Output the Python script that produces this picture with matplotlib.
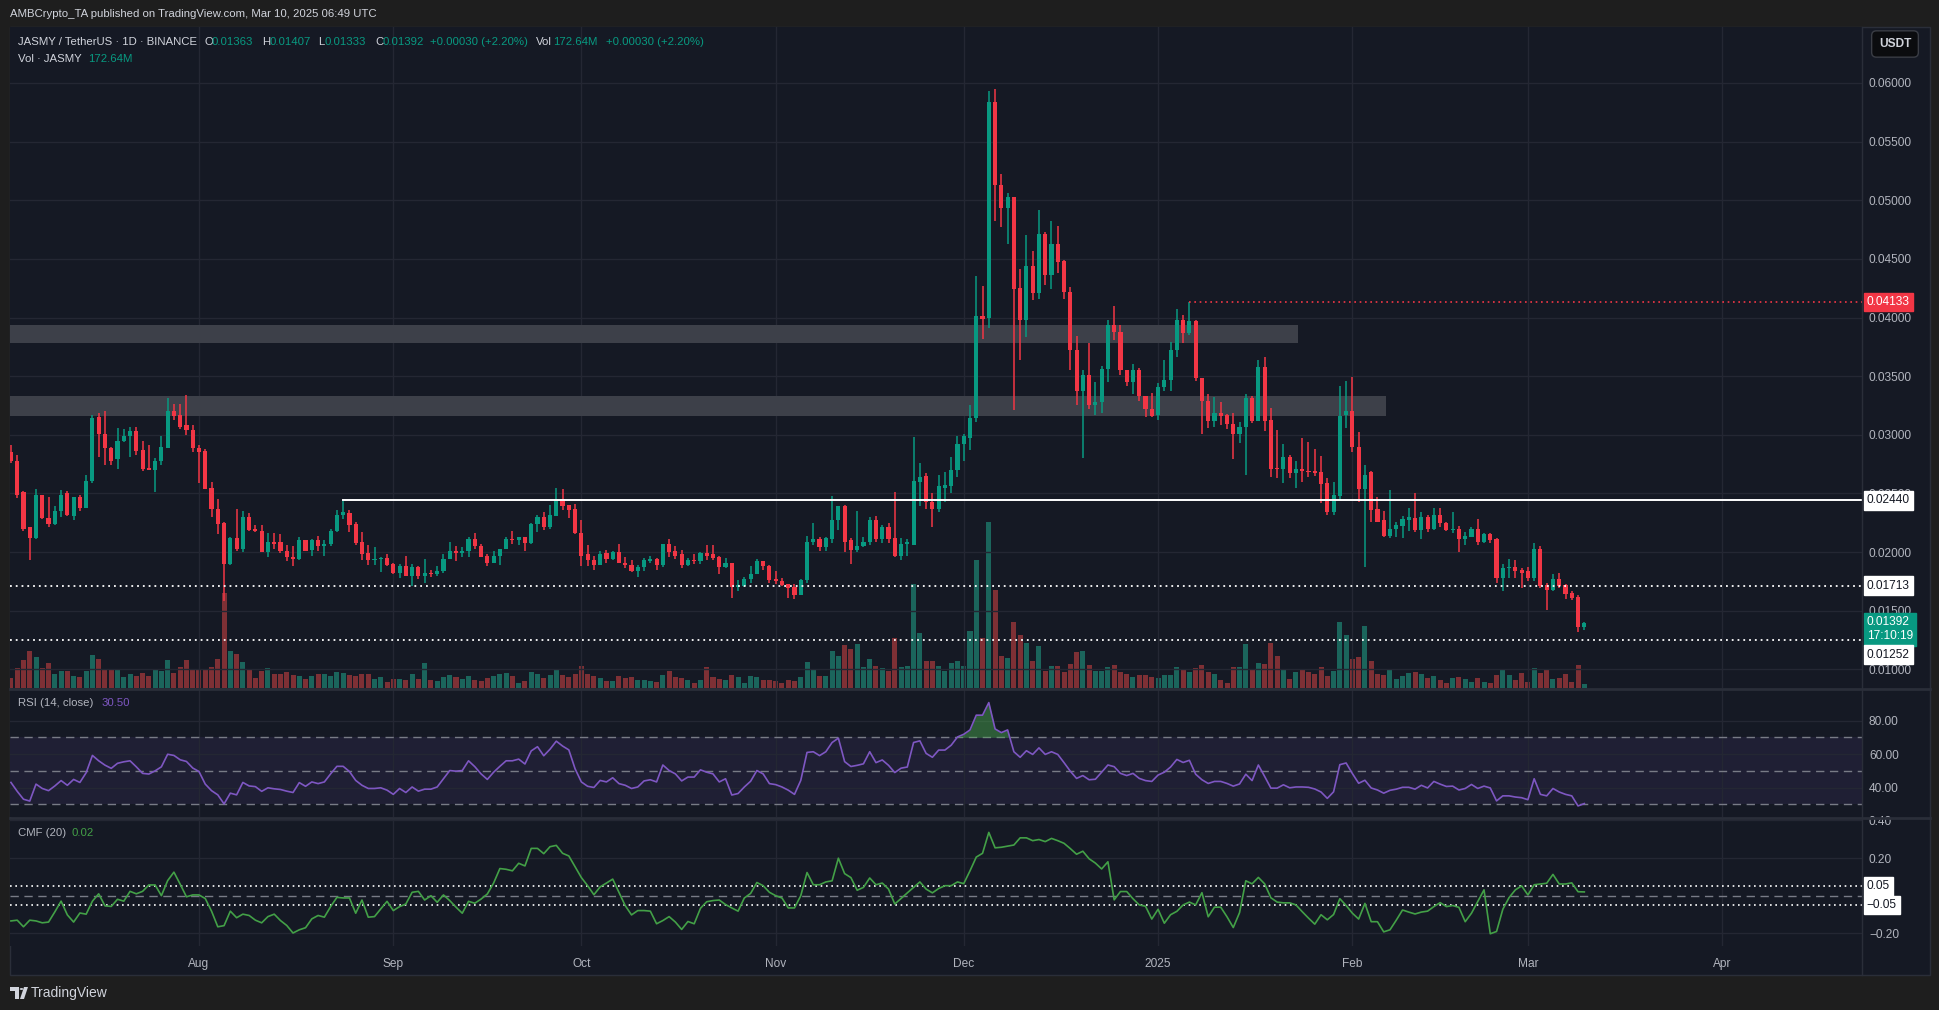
import numpy as np
import pandas as pd
import matplotlib
matplotlib.use("Agg")
import matplotlib.pyplot as plt
from matplotlib.patches import Rectangle, Polygon, Circle
from matplotlib.lines import Line2D

plt.rcParams['font.family'] = ['Liberation Sans', 'DejaVu Sans']

# ---- daily candles JASMY/USDT, 2024-07-02 .. 2025-03-10 ----
start_date = "2024-07-02"

opens = [
    # Jul
    .0285, .0278, .0251, .0221, .0212, .0249, .0229, .0224, .0235, .0250, .0231, .0247, .0238, .0261, .0315,
    .0301, .0289, .0279, .0295, .0299, .0303, .0287, .0272, .0270, .0278, .0289, .0320, .0317, .0308, .0304,
    # Aug
    .0289, .0286, .0255, .0237, .0225, .0190, .0212, .0203, .0230, .0220, .0218, .0200, .0209, .0209, .0201,
    .0196, .0194, .0210, .0202, .0210, .0205, .0207, .0218, .0232, .0233, .0224, .0209, .0199, .0193, .0194, .0195,
    # Sep
    .0190, .0182, .0188, .0180, .0187, .0180, .0182, .0181, .0184, .0194, .0201, .0199, .0201, .0211, .0205,
    .0197, .0191, .0197, .0203, .0211, .0210, .0213, .0208, .0224, .0230, .0221, .0231, .0245, .0240, .0237,
    # Oct
    .0216, .0198, .0193, .0189, .0199, .0194, .0200, .0191, .0189, .0184, .0187, .0192, .0194, .0189, .0207,
    .0201, .0198, .0189, .0193, .0192, .0199, .0198, .0196, .0187, .0191, .0170, .0171, .0177, .0181, .0192, .0188,
    # Nov
    .0177, .0175, .0173, .0170, .0163, .0176, .0209, .0211, .0204, .0211, .0227, .0239, .0210, .0202, .0205,
    .0209, .0227, .0211, .0221, .0212, .0197, .0207, .0206, .0260, .0265, .0243, .0237, .0255, .0256, .0270,
    # Dec
    .0292, .0297, .0314, .0401, .0400, .0584, .0513, .0493, .0503, .0425, .0398, .0444, .0421, .0471, .0436,
    .0463, .0448, .0422, .0372, .0337, .0351, .0325, .0328, .0356, .0394, .0388, .0355, .0345, .0355, .0333, .0322,
    # Jan
    .0317, .0341, .0347, .0372, .0398, .0387, .0397, .0348, .0329, .0312, .0319, .0317, .0309, .0301, .0307,
    .0331, .0312, .0358, .0313, .0272, .0271, .0281, .0267, .0271, .0269, .0269, .0268, .0259, .0234, .0248, .0317,
    # Feb
    .0320, .0290, .0254, .0268, .0237, .0227, .0214, .0220, .0222, .0227, .0229, .0219, .0230, .0220, .0232,
    .0225, .0219, .0220, .0211, .0213, .0220, .0209, .0215, .0211, .0178, .0186, .0187, .0185,
    # Mar
    .0184, .0178, .0203, .0172, .0168, .0177, .0172, .0165, .0162, .01363,
]
highs = [
    .0291, .0283, .0252, .0221, .0254, .0249, .0247, .0239, .0253, .0252, .0247, .0249, .0266, .0317, .0319,
    .0320, .0290, .0306, .0305, .0307, .0307, .0295, .0291, .0280, .0299, .0331, .0326, .0326, .0334, .0308,
    .0291, .0288, .0260, .0245, .0226, .0213, .0237, .0235, .0233, .0223, .0223, .0216, .0216, .0215, .0206,
    .0205, .0213, .0210, .0211, .0214, .0210, .0220, .0236, .0244, .0236, .0226, .0217, .0206, .0204, .0196, .0198,
    .0191, .0190, .0197, .0190, .0188, .0194, .0185, .0188, .0198, .0209, .0205, .0204, .0213, .0216, .0207,
    .0198, .0201, .0203, .0213, .0218, .0213, .0213, .0225, .0232, .0234, .0240, .0255, .0254, .0240, .0241,
    .0227, .0206, .0197, .0201, .0202, .0201, .0207, .0196, .0193, .0189, .0195, .0197, .0195, .0207, .0211,
    .0205, .0202, .0195, .0198, .0200, .0206, .0206, .0197, .0195, .0191, .0176, .0179, .0188, .0194, .0192, .0189,
    .0184, .0178, .0173, .0173, .0177, .0214, .0225, .0213, .0213, .0248, .0239, .0240, .0212, .0235, .0213,
    .0230, .0231, .0223, .0225, .0251, .0212, .0211, .0298, .0276, .0267, .0250, .0266, .0268, .0281, .0299,
    .0301, .0325, .0435, .0427, .0593, .0595, .0522, .0506, .0503, .0441, .0470, .0457, .0492, .0473, .0482,
    .0478, .0449, .0426, .0384, .0355, .0378, .0345, .0359, .0398, .0410, .0394, .0355, .0360, .0357, .0333, .0336,
    .0344, .0364, .0379, .0407, .0402, .0413, .0398, .0348, .0335, .0332, .0328, .0318, .0319, .0311, .0335,
    .0333, .0364, .0366, .0323, .0304, .0292, .0283, .0278, .0297, .0294, .0288, .0282, .0263, .0260, .0342, .0346,
    .0349, .0302, .0274, .0269, .0247, .0235, .0253, .0226, .0231, .0238, .0250, .0234, .0232, .0238, .0238,
    .0226, .0234, .0222, .0217, .0221, .0228, .0216, .0216, .0212, .0190, .0194, .0193, .0186,
    .0187, .0208, .0205, .0174, .0181, .0182, .0173, .0167, .0163, .01407,
]
lows = [
    .0276, .0246, .0218, .0193, .0211, .0228, .0221, .0223, .0230, .0231, .0227, .0235, .0238, .0259, .0281,
    .0274, .0274, .0271, .0294, .0281, .0283, .0269, .0270, .0251, .0274, .0289, .0313, .0305, .0300, .0285,
    .0259, .0254, .0230, .0215, .0158, .0189, .0201, .0200, .0218, .0217, .0200, .0196, .0203, .0199, .0192,
    .0188, .0193, .0201, .0197, .0201, .0197, .0205, .0217, .0228, .0217, .0206, .0193, .0189, .0189, .0183, .0188,
    .0181, .0178, .0180, .0171, .0177, .0174, .0179, .0180, .0182, .0194, .0192, .0196, .0196, .0203, .0196,
    .0188, .0191, .0189, .0203, .0207, .0206, .0201, .0207, .0217, .0219, .0220, .0231, .0236, .0229, .0215,
    .0188, .0188, .0185, .0189, .0191, .0193, .0191, .0186, .0183, .0179, .0184, .0191, .0185, .0187, .0196,
    .0194, .0186, .0188, .0190, .0190, .0193, .0193, .0181, .0186, .0161, .0167, .0170, .0174, .0181, .0185, .0174,
    .0173, .0171, .0161, .0160, .0163, .0174, .0206, .0201, .0201, .0208, .0219, .0200, .0190, .0200, .0204,
    .0206, .0209, .0208, .0208, .0196, .0193, .0197, .0206, .0239, .0237, .0221, .0234, .0243, .0250, .0264,
    .0278, .0287, .0311, .0382, .0391, .0482, .0477, .0463, .0321, .0364, .0383, .0415, .0416, .0428, .0424,
    .0438, .0416, .0355, .0325, .0280, .0322, .0317, .0319, .0345, .0381, .0351, .0342, .0335, .0329, .0315, .0315,
    .0313, .0337, .0337, .0366, .0378, .0385, .0346, .0301, .0306, .0307, .0308, .0305, .0279, .0293, .0266,
    .0310, .0312, .0303, .0264, .0263, .0259, .0263, .0255, .0260, .0264, .0265, .0242, .0232, .0232, .0245, .0306,
    .0285, .0243, .0187, .0226, .0226, .0213, .0212, .0213, .0212, .0218, .0217, .0211, .0217, .0219, .0221,
    .0218, .0216, .0200, .0206, .0213, .0206, .0208, .0208, .0174, .0167, .0178, .0178, .0169,
    .0175, .0175, .0169, .0151, .0167, .0169, .0160, .0159, .0132, .01333,
]
closes = [
    .0278, .0249, .0220, .0212, .0249, .0229, .0224, .0235, .0249, .0232, .0247, .0238, .0261, .0314, .0301,
    .0289, .0278, .0295, .0299, .0303, .0286, .0271, .0270, .0278, .0290, .0320, .0316, .0307, .0304, .0289,
    .0285, .0254, .0237, .0224, .0190, .0212, .0203, .0230, .0219, .0218, .0200, .0209, .0207, .0201, .0196,
    .0194, .0210, .0201, .0210, .0205, .0207, .0218, .0232, .0234, .0223, .0208, .0198, .0193, .0194, .0195, .0189,
    .0182, .0188, .0180, .0187, .0180, .0182, .0181, .0184, .0194, .0201, .0199, .0201, .0211, .0205, .0196,
    .0191, .0197, .0203, .0211, .0210, .0213, .0208, .0224, .0230, .0221, .0232, .0245, .0239, .0236, .0216,
    .0197, .0193, .0189, .0198, .0194, .0200, .0191, .0189, .0184, .0187, .0193, .0194, .0189, .0207, .0200,
    .0197, .0189, .0193, .0192, .0199, .0197, .0195, .0187, .0191, .0170, .0172, .0177, .0181, .0192, .0188, .0176,
    .0175, .0172, .0169, .0163, .0176, .0209, .0211, .0204, .0212, .0227, .0239, .0209, .0202, .0205, .0209,
    .0227, .0211, .0221, .0211, .0197, .0207, .0209, .0261, .0264, .0243, .0237, .0256, .0257, .0270, .0292,
    .0299, .0314, .0401, .0399, .0584, .0513, .0493, .0503, .0424, .0398, .0444, .0421, .0471, .0436, .0463,
    .0447, .0422, .0372, .0337, .0351, .0325, .0328, .0356, .0394, .0388, .0355, .0345, .0355, .0333, .0322, .0316,
    .0341, .0347, .0372, .0398, .0387, .0397, .0348, .0329, .0312, .0319, .0316, .0309, .0301, .0307, .0331,
    .0312, .0358, .0312, .0271, .0271, .0281, .0267, .0271, .0269, .0268, .0267, .0258, .0234, .0249, .0316, .0320,
    .0290, .0254, .0266, .0236, .0226, .0214, .0220, .0223, .0228, .0230, .0219, .0230, .0220, .0232, .0225,
    .0219, .0220, .0211, .0214, .0220, .0209, .0215, .0210, .0178, .0186, .0187, .0184, .0182,
    .0178, .0203, .0171, .0168, .0177, .0171, .0164, .0161, .01362, .01392,
]
# volume in millions of JASMY
volumes = [
    383, 781, 1093, 1448, 1207, 781, 980, 554, 639, 667, 469, 440, 667, 1278, 1136,
    696, 682, 710, 440, 554, 454, 568, 469, 710, 639, 1065, 596, 824, 1065, 682,
    696, 696, 824, 1136, 3692, 1448, 1306, 994, 682, 398, 639, 781, 525, 546, 611,
    494, 455, 351, 455, 559, 533, 455, 624, 572, 494, 455, 546, 533, 338, 416, 234,
    338, 338, 299, 533, 338, 962, 299, 260, 416, 494, 416, 338, 455, 299, 260,
    377, 455, 533, 572, 455, 182, 260, 611, 533, 377, 494, 728, 494, 416, 533,
    845, 533, 455, 377, 260, 260, 455, 377, 416, 299, 299, 260, 221, 494, 650,
    416, 377, 299, 182, 299, 806, 416, 338, 299, 494, 416, 182, 455, 416, 299, 299,
    260, 182, 299, 260, 416, 1001, 716, 456, 477, 1432, 1237, 1671, 1497, 1693, 803,
    1107, 868, 760, 673, 1931, 803, 868, 4036, 2127, 1042, 1063, 868, 651, 955, 1063,
    868, 2213, 4948, 1953, 6423, 3776, 1237, 1150, 2561, 2062, 1736, 1042, 1628, 651, 868,
    846, 608, 913, 1378, 1444, 880, 664, 664, 830, 880, 614, 531, 415, 515, 498, 432,
    382, 498, 515, 797, 681, 614, 764, 880, 614, 548, 299, 199, 830, 830, 1693,
    747, 979, 946, 1760, 1245, 714, 365, 631, 714, 631, 548, 830, 465, 662, 2541, 2033,
    1124, 1217, 2418, 1047, 554, 508, 708, 354, 462, 585, 631, 554, 385, 462, 308,
    200, 385, 431, 354, 231, 385, 231, 200, 508, 739, 508, 308, 585,
    231, 785, 585, 708, 354, 385, 554, 231, 893, 172.64,
]
rsi_vals = [
    43.1, 37.8, 33.1, 32.0, 42.1, 39.5, 38.2, 41.0, 44.2, 41.4, 44.9, 43.1, 48.9, 59.2, 56.0,
    53.4, 51.5, 54.5, 55.4, 56.0, 52.4, 48.5, 48.1, 50.0, 52.4, 59.9, 59.2, 56.6, 55.6, 51.7,
    49.6, 42.1, 38.2, 35.7, 30.3, 36.7, 35.7, 43.1, 41.0, 40.6, 37.8, 39.9, 39.3, 38.9, 37.9,
    37.1, 43.0, 40.8, 43.4, 42.4, 43.4, 48.2, 52.7, 52.7, 49.6, 44.3, 41.4, 39.5, 39.5, 39.9, 38.5,
    36.0, 39.5, 37.1, 40.4, 37.9, 39.1, 39.1, 40.4, 45.3, 50.2, 49.8, 50.2, 56.0, 52.5, 48.2,
    44.9, 49.2, 52.7, 56.0, 56.0, 57.0, 54.1, 61.9, 64.4, 59.0, 62.9, 67.7, 64.8, 62.5, 51.2,
    43.4, 40.8, 40.1, 44.3, 43.4, 45.9, 42.4, 41.4, 39.5, 40.4, 44.0, 44.7, 43.4, 53.5, 50.2,
    48.2, 44.0, 46.3, 46.3, 50.6, 49.2, 48.2, 43.4, 45.3, 35.6, 36.5, 40.4, 43.8, 50.2, 48.2, 42.4,
    41.8, 40.4, 38.5, 36.0, 44.3, 61.0, 61.4, 59.1, 61.4, 66.9, 69.5, 55.5, 52.6, 53.3, 54.2,
    61.4, 54.9, 56.5, 53.3, 49.0, 51.6, 52.3, 66.9, 67.9, 60.4, 58.1, 62.4, 62.4, 65.3, 70.2,
    71.8, 74.4, 83.2, 83.2, 90.7, 75.0, 72.8, 74.4, 61.4, 58.1, 62.0, 59.8, 63.7, 59.8, 61.4,
    59.8, 54.9, 49.8, 45.5, 47.2, 44.7, 45.0, 49.2, 53.5, 52.5, 48.5, 47.2, 48.5, 45.5, 44.2, 43.7,
    47.5, 49.2, 52.3, 56.8, 55.0, 56.3, 48.0, 44.7, 42.5, 43.7, 43.7, 42.5, 40.9, 42.2, 48.0,
    44.2, 53.5, 46.7, 39.7, 39.7, 41.7, 39.9, 40.4, 40.4, 40.2, 39.2, 37.4, 33.6, 37.5, 53.7, 54.7,
    48.4, 42.6, 44.4, 39.8, 38.6, 36.7, 38.4, 39.1, 40.2, 40.2, 39.1, 41.4, 39.8, 43.7, 42.1,
    40.7, 40.9, 38.6, 39.5, 41.9, 39.5, 40.9, 39.8, 32.1, 35.1, 35.1, 34.4, 34.0,
    32.8, 45.3, 36.0, 35.1, 39.5, 37.4, 36.0, 35.1, 29.1, 30.5,
]
cmf_vals = [
    -0.134, -0.130, -0.165, -0.130, -0.134, -0.144, -0.140, -0.086, -0.029, -0.102, -0.140, -0.092, -0.098, -0.029, 0.010,
    -0.054, -0.057, -0.019, -0.029, 0.023, 0.010, 0.023, 0.057, 0.057, 0.000, 0.080, 0.125, 0.061, -0.006, 0.004,
    0.004, -0.015, -0.082, -0.165, -0.159, -0.082, -0.117, -0.098, -0.105, -0.130, -0.144, -0.111, -0.098, -0.132, -0.158,
    -0.198, -0.181, -0.170, -0.123, -0.105, -0.114, -0.058, -0.009, -0.012, -0.012, -0.093, -0.023, -0.114, -0.111, -0.070, -0.030,
    -0.079, -0.058, -0.044, 0.018, 0.023, -0.023, 0.000, -0.035, 0.004, -0.026, -0.061, -0.093, -0.030, -0.040, -0.018,
    0.009, 0.067, 0.144, 0.140, 0.132, 0.172, 0.158, 0.251, 0.251, 0.223, 0.260, 0.267, 0.225, 0.211, 0.153,
    0.096, 0.053, 0.005, 0.047, 0.067, 0.088, 0.018, -0.053, -0.102, -0.079, -0.079, -0.082, -0.149, -0.132, -0.111,
    -0.140, -0.179, -0.137, -0.149, -0.067, -0.032, -0.026, -0.023, -0.047, -0.065, -0.082, -0.012, 0.012, 0.070, 0.053, 0.018,
    0.000, -0.012, -0.065, -0.065, 0.000, 0.123, 0.058, 0.058, 0.073, 0.079, 0.199, 0.117, 0.096, 0.029, 0.044,
    0.094, 0.058, 0.067, 0.035, -0.044, -0.015, 0.015, 0.044, 0.073, 0.035, 0.015, 0.038, 0.053, 0.053, 0.073,
    0.064, 0.132, 0.205, 0.225, 0.336, 0.254, 0.257, 0.263, 0.269, 0.307, 0.307, 0.292, 0.298, 0.287, 0.304,
    0.292, 0.278, 0.250, 0.220, 0.236, 0.196, 0.173, 0.142, 0.180, -0.022, 0.022, 0.022, -0.016, -0.049, -0.056, -0.124,
    -0.072, -0.146, -0.101, -0.083, -0.049, -0.034, -0.049, 0.016, -0.112, -0.061, -0.061, -0.112, -0.169, -0.090, 0.079,
    0.063, 0.097, 0.063, -0.011, -0.034, -0.038, -0.038, -0.049, -0.085, -0.119, -0.151, -0.101, -0.128, -0.100, -0.016, -0.052,
    -0.093, -0.124, -0.041, -0.138, -0.138, -0.192, -0.181, -0.130, -0.076, -0.087, -0.097, -0.087, -0.082, -0.058, -0.037,
    -0.058, -0.052, -0.062, -0.138, -0.093, -0.031, 0.031, -0.202, -0.190, -0.072, -0.010, 0.031, 0.052,
    0.004, 0.058, 0.062, 0.066, 0.113, 0.062, 0.062, 0.068, 0.021, 0.020,
]

month_ticks = ["2024-08-01", "2024-09-01", "2024-10-01", "2024-11-01", "2024-12-01",
               "2025-01-01", "2025-02-01", "2025-03-01", "2025-04-01"]
month_labels = ["Aug", "Sep", "Oct", "Nov", "Dec", "2025", "Feb", "Mar", "Apr"]
price_ticks = [0.010, 0.015, 0.020, 0.025, 0.030, 0.035, 0.040, 0.045, 0.050, 0.055, 0.060]
rsi_ticks = [80, 60, 40]
cmf_ticks = [0.40, 0.20, -0.20]
cmf_tick_labels = ["0.40", "0.20", "\u22120.20"]

# levels drawn on the chart
support_level, support_from = 0.02440, "2024-08-24"
dotted_levels = [0.01713, 0.01252]
high_level, high_from = 0.04133, "2025-01-06"
zone_upper, zone_upper_to = (0.0378, 0.0394), "2025-01-23"
zone_lower, zone_lower_to = (0.0316, 0.0333), "2025-02-06"
cmf_levels = [0.05, -0.05]
last_price, countdown = 0.01392, "17:10:19"

n = len(closes)
assert all(len(a) == n for a in (opens, highs, lows, volumes, rsi_vals, cmf_vals)), \
    [len(a) for a in (opens, highs, lows, closes, volumes, rsi_vals, cmf_vals)]

o, h, l, c = (np.array(a) for a in (opens, highs, lows, closes))
v = np.array(volumes)
rsi = np.array(rsi_vals)
cmf = np.array(cmf_vals)
x = np.arange(n)


def day(s):
    return (pd.Timestamp(s) - pd.Timestamp(start_date)).days


# ---- colours ----
OUTER = "#1e1e1e"
BG = "#151924"
GRID = "#242733"
SEP = "#2a2e39"
TXT = "#b2b5be"
LEG = "#d1d4dc"
GREEN = "#089981"
RED = "#f23645"
PURPLE = "#7e57c2"
CMFG = "#43a047"
DASH = "#787b86"
FS = 8.6
LFS = 8.2

W, H = 1940, 1010
fig = plt.figure(figsize=(W / 100, H / 100), dpi=100)
fig.patch.set_facecolor(OUTER)


def box(x0, y0, x1, y1):
    return [x0 / W, 1 - y1 / H, (x1 - x0) / W, (y1 - y0) / H]


def ftext(xp, yp, s, **kw):
    kw.setdefault("fontsize", FS)
    kw.setdefault("va", "center")
    return fig.text(xp / W, 1 - yp / H, s, **kw)


fig.add_artist(Rectangle((10 / W, 1 - 975 / H), 1920 / W, 948 / H, transform=fig.transFigure,
                         fc=BG, ec=SEP, lw=1, zorder=0))

XL = (-0.15, 295.3)
ax_vol = fig.add_axes(box(10, 27, 1862, 688))
ax = fig.add_axes(box(10, 27, 1862, 688), sharex=ax_vol)
ax_rsi = fig.add_axes(box(10, 690, 1862, 817), sharex=ax_vol)
ax_cmf = fig.add_axes(box(10, 819, 1862, 946), sharex=ax_vol)
for a in (ax_vol, ax, ax_rsi, ax_cmf):
    a.set_facecolor(BG)
    for s in a.spines.values():
        s.set_visible(False)
ax.set_facecolor("none")
ax_vol.set_xlim(*XL)

month_pos = [day(m) for m in month_ticks]
ax_cmf.set_xticks(month_pos)
ax_cmf.set_xticklabels(month_labels)
for a in (ax_vol, ax_rsi, ax_cmf):
    a.grid(axis="x", color=GRID, lw=1)
for a in (ax_vol, ax, ax_rsi):
    a.tick_params(axis="x", length=0, labelbottom=False)
ax_cmf.tick_params(axis="x", length=0, pad=8.5, labelsize=FS, labelcolor=TXT)

# ---- volume ----
up = c >= o
vol_col = np.where(up, "#1b655c", "#7e3035")
ax_vol.bar(x, v, width=0.8, color=vol_col, lw=0)
ax_vol.set_ylim(0, v.max() * 661 / 166)
ax_vol.tick_params(axis="y", left=False, labelleft=False)
ax_vol.set_yticks([])

# ---- price pane ----
ax.set_ylim(0.00841, 0.06477)
ax.set_yticks(price_ticks)
ax.set_yticklabels([f"{t:.5f}" for t in price_ticks])
ax.yaxis.tick_right()
ax.tick_params(axis="y", length=0, pad=5, labelsize=FS, labelcolor=TXT)
ax.grid(axis="y", color=GRID, lw=1)

for (lo, hi), end in ((zone_upper, zone_upper_to), (zone_lower, zone_lower_to)):
    ax.add_patch(Rectangle((XL[0], lo), day(end) + 0.3 - XL[0], hi - lo, fc="#3d4049", ec="none", zorder=1))

col = np.where(up, GREEN, RED)
ax.vlines(x, l, h, colors=col, lw=1.1, zorder=3)
body_lo = np.minimum(o, c)
body_h = np.maximum(np.abs(c - o), 0.00009)
ax.bar(x, body_h, bottom=body_lo, width=0.66, color=col, lw=0, zorder=4)

ax.plot([day(support_from), XL[1]], [support_level] * 2, color="white", lw=1.4, zorder=5)
for lvl in dotted_levels:
    ax.axhline(lvl, color="white", lw=1.3, ls=(0, (1, 2.2)), zorder=5)
ax.plot([day(high_from), XL[1]], [high_level] * 2, color=RED, lw=1.2, ls=(0, (1, 2.2)), zorder=5)


def tag(axis, y, s, fc, tc, dy=0, va="center"):
    axis.annotate(s, xy=(1, y), xycoords=axis.get_yaxis_transform(), xytext=(3.5, dy),
                  textcoords="offset points", ha="left", va=va, color=tc, fontsize=FS,
                  bbox=dict(boxstyle="square,pad=0.28", fc=fc, ec=fc), annotation_clip=False, zorder=20)


tag(ax, high_level, f"{high_level:.5f}", RED, "white")
tag(ax, support_level, f"{support_level:.5f}", "white", "#131722")
tag(ax, dotted_levels[0], f"{dotted_levels[0]:.5f}", "white", "#131722")
tag(ax, last_price, f"{last_price:.5f}\n{countdown}", GREEN, "white", dy=5, va="top")
tag(ax, dotted_levels[1], f"{dotted_levels[1]:.5f}", "white", "#131722", dy=-10.7)

# ---- RSI pane ----
ax_rsi.set_ylim(22.5, 98.2)
ax_rsi.axhspan(30, 70, color=PURPLE, alpha=0.1, lw=0)
ax_rsi.set_yticks(rsi_ticks)
ax_rsi.set_yticklabels([f"{t:.2f}" for t in rsi_ticks])
ax_rsi.yaxis.tick_right()
ax_rsi.tick_params(axis="y", length=0, pad=5, labelsize=FS, labelcolor=TXT)
ax_rsi.grid(axis="y", color=GRID, lw=1)
for lvl in (70, 50, 30):
    ax_rsi.axhline(lvl, color=DASH, lw=1, ls=(0, (6, 4)), zorder=2)
ax_rsi.fill_between(x, 70, rsi, where=rsi >= 70, interpolate=True, color="#4caf50", alpha=0.45, lw=0, zorder=3)
ax_rsi.plot(x, rsi, color=PURPLE, lw=1.2, zorder=4)

# ---- CMF pane ----
ax_cmf.set_ylim(-0.267, 0.407)
ax_cmf.set_yticks(cmf_ticks)
ax_cmf.set_yticklabels(cmf_tick_labels)
ax_cmf.yaxis.tick_right()
ax_cmf.tick_params(axis="y", length=0, pad=5, labelsize=FS, labelcolor=TXT)
ax_cmf.grid(axis="y", color=GRID, lw=1)
ax_cmf.axhline(0, color=DASH, lw=1, ls=(0, (6, 4)), zorder=2)
for lvl in cmf_levels:
    ax_cmf.axhline(lvl, color="white", lw=1.2, ls=(0, (1, 2.2)), zorder=3)
ax_cmf.plot(x, cmf, color=CMFG, lw=1.2, zorder=4)
tag(ax_cmf, cmf_levels[0], "0.05", "white", "#131722")
tag(ax_cmf, cmf_levels[1], "\u22120.05", "white", "#131722")

# ---- separators ----
for yp, lw in ((689, 2), (818, 2)):
    fig.add_artist(Line2D([10 / W, 1930 / W], [1 - yp / H] * 2, color=SEP, lw=lw))
fig.add_artist(Line2D([1862 / W] * 2, [1 - 27 / H, 1 - 975 / H], color=SEP, lw=1))

# ---- texts ----
ftext(10, 14, "AMBCrypto_TA published on TradingView.com, Mar 10, 2025 06:49 UTC", color=LEG, fontsize=LFS)
legend1 = [("JASMY / TetherUS \u00b7 1D \u00b7 BINANCE", 18, LEG), ("O", 205, LEG), ("0.01363", 212, GREEN),
           ("H", 262, LEG), ("0.01407", 269, GREEN), ("L", 318, LEG), ("0.01333", 325, GREEN),
           ("C", 375, LEG), ("0.01392", 383, GREEN), ("+0.00030 (+2.20%)", 430, GREEN),
           ("Vol", 536, LEG), ("172.64M", 553, GREEN), ("+0.00030 (+2.20%)", 606, GREEN)]
for s, xp, cc in legend1:
    ftext(xp, 42, s, color=cc, fontsize=LFS)
ftext(18, 59, "Vol \u00b7 JASMY", color=LEG, fontsize=LFS)
ftext(88, 59, "172.64M", color=GREEN, fontsize=LFS)
ftext(18, 703, "RSI (14, close)", color=TXT, fontsize=LFS)
ftext(102, 703, "30.50", color=PURPLE, fontsize=LFS)
ftext(18, 833, "CMF (20)", color=TXT, fontsize=LFS)
ftext(72, 833, "0.02", color=CMFG, fontsize=LFS)

ftext(1895, 44, "USDT", color=LEG, ha="center", fontweight="bold",
      bbox=dict(boxstyle="round,pad=0.6,rounding_size=0.4", fc="#0b0c0f", ec="#3a3d45", lw=1))

# TradingView footer logo + name
logo = [Polygon([(10 / W, 1 - 987 / H), (19 / W, 1 - 987 / H), (19 / W, 1 - 999 / H), (15 / W, 1 - 999 / H),
                 (15 / W, 1 - 991 / H), (10 / W, 1 - 991 / H)], closed=True, transform=fig.transFigure, fc=LEG),
        Circle((21.5 / W, 1 - 989 / H), 1.8 / W, transform=fig.transFigure, fc=LEG),
        Polygon([(20 / W, 1 - 999 / H), (24 / W, 1 - 987 / H), (28 / W, 1 - 987 / H), (24 / W, 1 - 999 / H)],
                closed=True, transform=fig.transFigure, fc=LEG)]
for p in logo:
    fig.add_artist(p)
ftext(31, 993, "TradingView", color=LEG, fontsize=10)

fig.savefig("out.png", dpi=100, facecolor=fig.get_facecolor())
